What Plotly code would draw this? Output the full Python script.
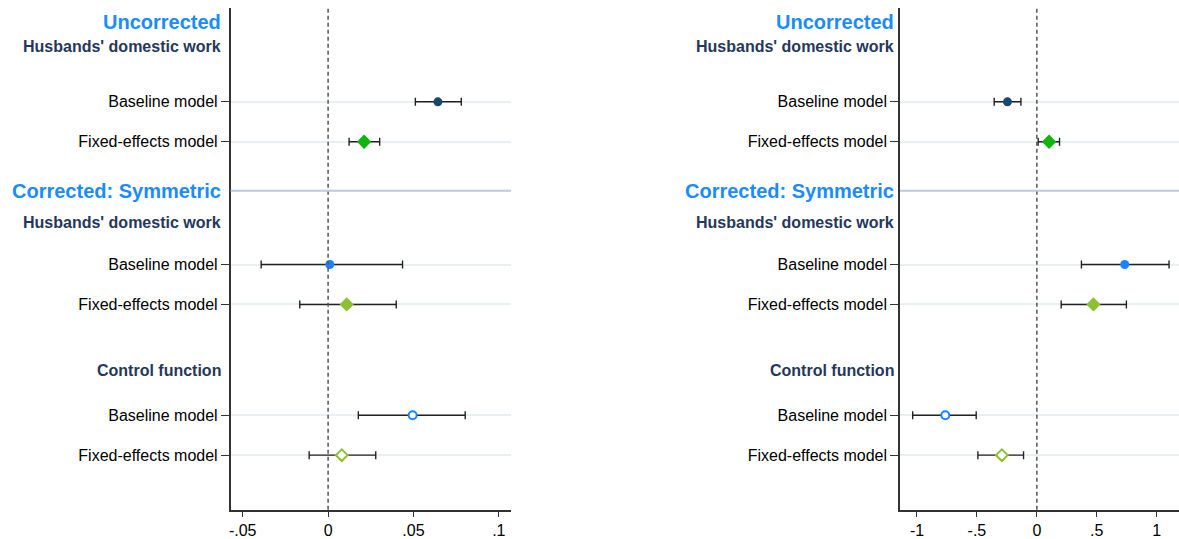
import plotly.graph_objects as go

# ---- data ----
row_labels = ["Baseline model", "Fixed-effects model",
              "Baseline model", "Fixed-effects model",
              "Baseline model", "Fixed-effects model"]
row_groups = ["Uncorrected", "Uncorrected",
              "Corrected: Symmetric", "Corrected: Symmetric",
              "Control function", "Control function"]

left_est = [0.0643, 0.0211, 0.0010, 0.0109, 0.0495, 0.0080]
left_lo = [0.0511, 0.0123, -0.0392, -0.0166, 0.0177, -0.0111]
left_hi = [0.0780, 0.0302, 0.0436, 0.0399, 0.0803, 0.0279]

right_est = [-0.245, 0.102, 0.733, 0.472, -0.764, -0.292]
right_lo = [-0.356, 0.011, 0.372, 0.203, -1.036, -0.492]
right_hi = [-0.133, 0.189, 1.103, 0.747, -0.506, -0.111]

left_ticks = [-0.05, 0, 0.05, 0.1]
left_ticktext = ["-.05", "0", ".05", ".1"]
right_ticks = [-1, -0.5, 0, 0.5, 1]
right_ticktext = ["-1", "-.5", "0", ".5", "1"]

# ---- layout / styling constants ----
W, H = 1179, 539
row_pos = [102, 142, 265, 305, 416, 456]
headers = [("Uncorrected", 22, 20, "#1a8cff"),
           ("Husbands' domestic work", 47, 16, "#26375c"),
           ("Corrected: Symmetric", 191, 20, "#1a8cff"),
           ("Husbands' domestic work", 223, 16, "#26375c"),
           ("Control function", 371, 16, "#26375c")]
sep_y = 191
styles = [dict(symbol="circle", color="#1a476f", size=9, hollow=False),
          dict(symbol="diamond", color="#0fb40f", size=11, hollow=False),
          dict(symbol="circle", color="#1a84ff", size=9, hollow=False),
          dict(symbol="diamond", color="#8cbf32", size=11, hollow=False),
          dict(symbol="circle", color="#1a84ff", size=8, hollow=True),
          dict(symbol="diamond", color="#8cbf32", size=9, hollow=True)]
FONT = "Liberation Sans, Arial, sans-serif"

fig = go.Figure()

panels = [
    dict(est=left_est, lo=left_lo, hi=left_hi, xa="x", ya="y",
         tv=left_ticks, tt=left_ticktext, rng=[-0.0571, 0.1072],
         dom=[229 / W, 510 / W], hshift=-8),
    dict(est=right_est, lo=right_lo, hi=right_hi, xa="x2", ya="y2",
         tv=right_ticks, tt=right_ticktext, rng=[-1.142, 1.186],
         dom=[899.5 / W, 1.0], hshift=-4),
]

ydom = [1 - 510.7 / H, 1 - 8 / H]

for pi, p in enumerate(panels):
    for i in range(len(row_labels)):
        st = styles[i]
        fig.add_trace(go.Scatter(
            x=[p["est"][i]], y=[row_pos[i]], xaxis=p["xa"], yaxis=p["ya"],
            mode="markers", showlegend=False,
            error_x=dict(type="data", symmetric=False,
                         array=[p["hi"][i] - p["est"][i]],
                         arrayminus=[p["est"][i] - p["lo"][i]],
                         color="#222222", thickness=1.4, width=4),
            marker=dict(symbol=st["symbol"], size=st["size"],
                        color="white" if st["hollow"] else st["color"],
                        line=dict(color=st["color"],
                                  width=2 if st["hollow"] else 0)),
        ))
    suffix = "" if pi == 0 else "2"
    fig.update_layout(**{
        "xaxis" + suffix: dict(
            domain=p["dom"], range=p["rng"], anchor="y" + suffix,
            tickvals=p["tv"], ticktext=p["tt"], ticks="outside", ticklen=5,
            tickcolor="#333333", showline=True, linecolor="#333333",
            linewidth=1.5, showgrid=False, zeroline=False,
            tickfont=dict(family=FONT, size=16, color="black")),
        "yaxis" + suffix: dict(
            domain=ydom, range=[510.7, 8], anchor="x" + suffix,
            tickvals=row_pos, ticktext=row_labels, ticks="outside", ticklen=8,
            tickcolor="#333333", showline=True, linecolor="#333333",
            linewidth=1.5, showgrid=True, gridcolor="#e9f0f2", gridwidth=2,
            zeroline=False,
            tickfont=dict(family=FONT, size=16, color="black")),
    })
    # dashed zero line
    fig.add_shape(type="line", xref=p["xa"], yref=p["ya"] + " domain",
                  x0=0, x1=0, y0=0, y1=1,
                  line=dict(color="#555555", width=1.5, dash="4px,3px"))
    # separator line
    fig.add_shape(type="line", xref=p["xa"] + " domain", yref=p["ya"],
                  x0=0, x1=1, y0=sep_y, y1=sep_y,
                  line=dict(color="#bccada", width=2))
    for text, yv, fs, col in headers:
        fig.add_annotation(text="<b>" + text + "</b>", xref=p["xa"] + " domain",
                           yref=p["ya"], x=0, y=yv, xanchor="right",
                           yanchor="middle", xshift=p["hshift"], showarrow=False,
                           font=dict(family=FONT, size=fs, color=col))

fig.update_layout(width=W, height=H, margin=dict(l=0, r=0, t=0, b=0),
                  plot_bgcolor="white", paper_bgcolor="white",
                  font=dict(family=FONT))

fig.write_html("out.html", config={"displayModeBar": False},
               post_script="document.body.style.margin='0';"
                           "document.body.style.overflow='hidden';")
